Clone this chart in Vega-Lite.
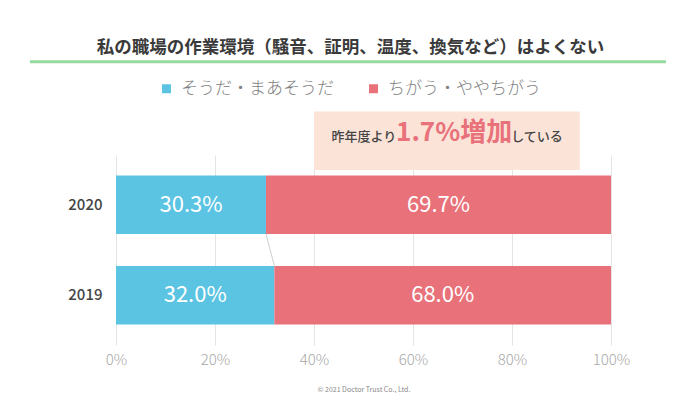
{
  "$schema": "https://vega.github.io/schema/vega-lite/v6.json",
  "width": 495,
  "height": 190,
  "autosize": {"type": "none"},
  "padding": {"left": 116, "top": 155, "right": 89, "bottom": 48},
  "background": "white",
  "config": {
    "font": "Noto Sans CJK JP",
    "view": {"stroke": null}
  },
  "title": {
    "text": "私の職場の作業環境（騒音、証明、温度、換気など）はよくない",
    "fontSize": 17.5,
    "fontWeight": "bold",
    "color": "#3a3a3a",
    "anchor": "middle",
    "frame": "group",
    "dx": -13,
    "offset": 4
  },
  "datasets": {
    "bars": [
      {"year": "2020", "category": "そうだ・まあそうだ", "value": 0.303},
      {"year": "2020", "category": "ちがう・ややちがう", "value": 0.697},
      {"year": "2019", "category": "そうだ・まあそうだ", "value": 0.320},
      {"year": "2019", "category": "ちがう・ややちがう", "value": 0.680}
    ],
    "note": [
      {"year": "2020", "start": 0.40, "end": 0.937, "tip": 0.673, "lineStart": -0.174, "lineEnd": 1.111, "pre": "昨年度より", "main": "1.7%増加", "post": "している"}
    ],
    "link": [
      {"from": "2020", "to": "2019", "a": 0.303, "b": 0.320}
    ]
  },
  "encoding": {
    "y": {
      "field": "year",
      "type": "nominal",
      "sort": ["2020", "2019"],
      "scale": {"domain": ["2020", "2019"], "paddingInner": 0.355, "paddingOuter": 0.227},
      "axis": {
        "title": null,
        "domain": false,
        "ticks": false,
        "labelFontSize": 15,
        "labelFontWeight": 500,
        "labelColor": "#444444",
        "labelPadding": 14
      }
    }
  },
  "layer": [
    {
      "data": {"name": "bars"},
      "mark": {"type": "bar", "opacity": 1},
      "encoding": {
        "x": {
          "field": "value",
          "type": "quantitative",
          "stack": "zero",
          "scale": {"domain": [0, 1], "nice": false},
          "axis": {
            "title": "© 2021 Doctor Trust Co., Ltd.",
            "titleFontSize": 7,
            "titleFontWeight": "normal",
            "titleColor": "#888888",
            "titlePadding": 18,
            "values": [0, 0.2, 0.4, 0.6, 0.8, 1],
            "format": ".0%",
            "labelFlush": false,
            "labelFontSize": 15,
            "labelFontWeight": 300,
            "labelColor": "#a8a8a8",
            "labelPadding": 7,
            "domain": false,
            "ticks": false,
            "grid": true,
            "gridColor": "#e4e4e4",
            "gridWidth": 1
          }
        },
        "color": {
          "field": "category",
          "type": "nominal",
          "scale": {
            "domain": ["そうだ・まあそうだ", "ちがう・ややちがう"],
            "range": ["#5bc4e3", "#e8717a"]
          },
          "legend": {
            "title": null,
            "orient": "none",
            "direction": "horizontal",
            "legendX": 42,
            "legendY": -75,
            "symbolType": "square",
            "symbolSize": 81,
            "symbolStrokeWidth": 0,
            "labelFontSize": 17,
            "labelFontWeight": 300,
            "labelColor": "#808080",
            "labelOffset": 6,
            "columnPadding": 31,
            "labelLimit": 300
          }
        }
      }
    },
    {
      "data": {"name": "bars"},
      "mark": {"type": "text", "color": "white", "fontSize": 22, "fontWeight": "normal", "baseline": "middle"},
      "encoding": {
        "x": {"field": "value", "type": "quantitative", "stack": "zero", "bandPosition": 0.5},
        "detail": {"field": "category"},
        "text": {"field": "value", "type": "quantitative", "format": ".1%"}
      }
    },
    {
      "data": {"name": "link"},
      "mark": {"type": "rule", "color": "#cfcfcf", "strokeWidth": 1, "yOffset": 29.5, "y2Offset": -29.5},
      "encoding": {
        "x": {"field": "a", "type": "quantitative"},
        "x2": {"field": "b"},
        "y": {"field": "from", "type": "nominal"},
        "y2": {"field": "to"}
      }
    },
    {
      "data": {"name": "note"},
      "mark": {"type": "rule", "color": "#95dba0", "strokeWidth": 3, "yOffset": -143},
      "encoding": {
        "x": {"field": "lineStart", "type": "quantitative"},
        "x2": {"field": "lineEnd"},
        "y": {"field": "year", "type": "nominal"}
      }
    },
    {
      "data": {"name": "note"},
      "mark": {"type": "rect", "color": "#fbe3d8", "yOffset": -64, "y2Offset": -81},
      "encoding": {
        "x": {"field": "start", "type": "quantitative"},
        "x2": {"field": "end"},
        "y": {"field": "year", "type": "nominal"}
      }
    },
    {
      "data": {"name": "note"},
      "mark": {"type": "point", "shape": "triangle-down", "filled": true, "color": "#fbe3d8", "opacity": 1, "size": 60, "yOffset": -53},
      "encoding": {
        "x": {"field": "tip", "type": "quantitative"},
        "y": {"field": "year", "type": "nominal"}
      }
    },
    {
      "data": {"name": "note"},
      "mark": {"type": "text", "color": "#e8717a", "fontSize": 26, "fontWeight": "bold", "align": "center", "baseline": "alphabetic", "dx": 5, "dy": -64},
      "encoding": {
        "x": {"field": "tip", "type": "quantitative"},
        "y": {"field": "year", "type": "nominal"},
        "text": {"field": "main"}
      }
    },
    {
      "data": {"name": "note"},
      "mark": {"type": "text", "color": "#444444", "fontSize": 13, "fontWeight": 500, "align": "right", "baseline": "alphabetic", "dx": -53, "dy": -64},
      "encoding": {
        "x": {"field": "tip", "type": "quantitative"},
        "y": {"field": "year", "type": "nominal"},
        "text": {"field": "pre"}
      }
    },
    {
      "data": {"name": "note"},
      "mark": {"type": "text", "color": "#444444", "fontSize": 13, "fontWeight": 500, "align": "left", "baseline": "alphabetic", "dx": 62, "dy": -64},
      "encoding": {
        "x": {"field": "tip", "type": "quantitative"},
        "y": {"field": "year", "type": "nominal"},
        "text": {"field": "post"}
      }
    }
  ]
}
